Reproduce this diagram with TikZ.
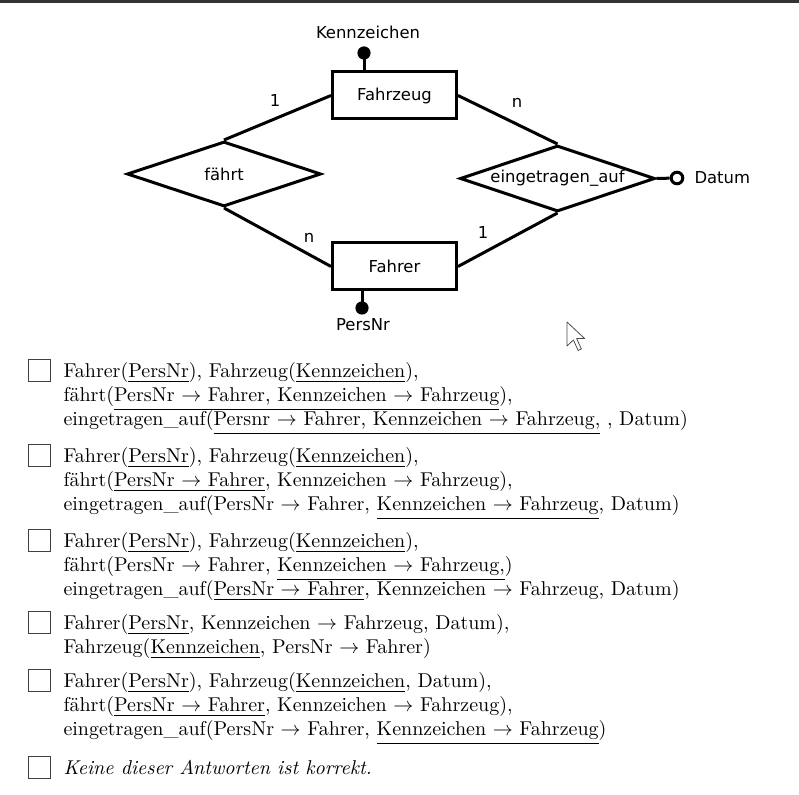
\documentclass[tikz,border=0pt]{standalone}
\usepackage{fontspec}
\newfontfamily\erfont{DejaVu Sans}
\usetikzlibrary{shapes.geometric}
\newcommand{\fk}{\ensuremath{\rightarrow}}

\begin{document}
\begin{tikzpicture}[x=0.5pt,y=-0.5pt,line width=1.5pt,
    er/.style={font=\erfont\fontsize{8.2}{9.8}\selectfont,inner sep=0},
    entity/.style={er,draw,rectangle,minimum width=62pt,minimum height=23.5pt},
    relation/.style={er,draw,diamond,minimum width=97pt,minimum height=32.5pt},
    key/.style={circle,fill,inner sep=0,minimum size=6.6pt},
    attr/.style={circle,draw,fill=white,inner sep=0,minimum size=5.8pt},
    answer/.style={anchor=base west,inner sep=0},
    box/.style={draw=black!75,line width=0.5pt,inner sep=0,minimum size=11pt}]

  \useasboundingbox (0,0) rectangle (799,795);
  \fill[black!80] (0,0) rectangle (799,3);

  % ER diagram
  \node[entity] (fahrzeug) at (394.5,95.5) {Fahrzeug};
  \node[entity] (fahrer)   at (394.5,266.5) {Fahrer};
  \node[relation] (faehrt) at (224,174) {\makebox[0pt]{fährt}};
  \node[relation,minimum width=97.5pt,minimum height=33pt] (eingetragen) at (557.5,178.5) {\makebox[0pt]{eingetragen\_auf}};

  \node[key]  (kz)    at (364,53)  {};
  \node[key]  (pnr)   at (362,308) {};
  \node[attr] (datum) at (677,178) {};

  \begin{scope}[every node/.style={er}]
    \node (kzlabel)    at (368,32)  {Kennzeichen};
    \node (pnrlabel)   at (363,325) {PersNr};
    \node[anchor=west] (datumlabel) at (693,178) {Datum};
    \node (card1) at (275,101) {1};
    \node (card2) at (309,238) {n};
    \node (card3) at (517,103) {n};
    \node (card4) at (483,233) {1};
  \end{scope}

  \draw (fahrzeug.west) -- (faehrt.north);
  \draw (faehrt.south) -- (fahrer.west);
  \draw (fahrzeug.east) -- (eingetragen.north);
  \draw (eingetragen.south) -- (fahrer.east);
  \draw (eingetragen.east) -- (datum);
  \draw (kz.center) -- (kz |- fahrzeug.north);
  \draw (pnr.center) -- (pnr |- fahrer.south);

  % mouse pointer
  \begin{scope}[shift={(567,322)}]
    \draw[black!70,fill=white,line width=0.4pt,line join=round,x=0.8pt,y=-0.75pt]
      (0,0) -- (0,16) -- (4,12) -- (7,19) -- (9,18) -- (6,11) -- (11,11) -- cycle;
  \end{scope}

  % answers
  \foreach \b [count=\i] in {378,463,548,630,688,775}
    \node[box] (cb\i) at (39,\b-7) {};

  \node[answer] (a1) at (62,378) {Fahrer(\underline{PersNr}), Fahrzeug(\underline{Kennzeichen}),};
  \node[answer] (a2) at (62,402) {fährt(\underline{PersNr \fk{} Fahrer, Kennzeichen \fk{} Fahrzeug}),};
  \node[answer] (a3) at (62,426) {eingetragen\_auf(\underline{Persnr \fk{} Fahrer, Kennzeichen \fk{} Fahrzeug,} , Datum)};

  \node[answer] (b1) at (62,463) {Fahrer(\underline{PersNr}), Fahrzeug(\underline{Kennzeichen}),};
  \node[answer] (b2) at (62,487) {fährt(\underline{PersNr \fk{} Fahrer}, Kennzeichen \fk{} Fahrzeug),};
  \node[answer] (b3) at (62,511) {eingetragen\_auf(PersNr \fk{} Fahrer, \underline{Kennzeichen \fk{} Fahrzeug}, Datum)};

  \node[answer] (c1) at (62,548) {Fahrer(\underline{PersNr}), Fahrzeug(\underline{Kennzeichen}),};
  \node[answer] (c2) at (62,572) {fährt(PersNr \fk{} Fahrer, \underline{Kennzeichen \fk{} Fahrzeug,})};
  \node[answer] (c3) at (62,596) {eingetragen\_auf(\underline{PersNr \fk{} Fahrer}, Kennzeichen \fk{} Fahrzeug, Datum)};

  \node[answer] (d1) at (62,630) {Fahrer(\underline{PersNr}, Kennzeichen \fk{} Fahrzeug, Datum),};
  \node[answer] (d2) at (62,654) {Fahrzeug(\underline{Kennzeichen}, PersNr \fk{} Fahrer)};

  \node[answer] (e1) at (62,688) {Fahrer(\underline{PersNr}), Fahrzeug(\underline{Kennzeichen}, Datum),};
  \node[answer] (e2) at (62,712) {fährt(\underline{PersNr \fk{} Fahrer}, Kennzeichen \fk{} Fahrzeug),};
  \node[answer] (e3) at (62,736) {eingetragen\_auf(PersNr \fk{} Fahrer, \underline{Kennzeichen \fk{} Fahrzeug})};

  \node[answer] (f1) at (62,775) {\textit{Keine dieser Antworten ist korrekt.}};

\end{tikzpicture}
\end{document}
